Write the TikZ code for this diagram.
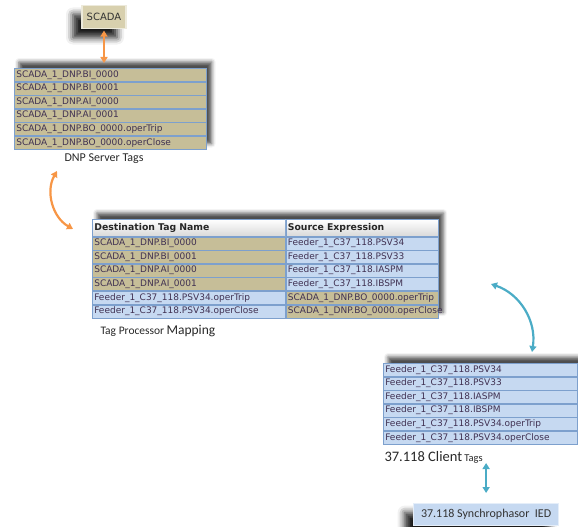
\documentclass[tikz,border=0pt]{standalone}
\usepackage{fontspec}
\setmainfont{Carlito}
\newfontfamily\tagfont{DejaVu Sans}
\usetikzlibrary{arrows.meta, positioning, backgrounds, shadows.blur}

\definecolor{tagtan}{RGB}{198,190,152}
\definecolor{scadatan}{RGB}{216,208,174}
\definecolor{tagblue}{RGB}{198,217,241}
\definecolor{rowline}{RGB}{125,160,205}
\definecolor{tagtext}{RGB}{64,49,82}
\definecolor{labeltext}{RGB}{40,40,40}
\definecolor{arroworange}{RGB}{247,150,70}
\definecolor{arrowteal}{RGB}{75,172,198}

\begin{document}
\begin{tikzpicture}[x=1pt, y=-1pt,
    tagrow/.style={rectangle, draw=rowline, line width=0.6pt, text width=#1, align=left, inner xsep=2pt, inner ysep=0pt, minimum height=13pt, text=tagtext, font=\tagfont\fontsize{9}{10}\selectfont},
    headcell/.style={tagrow=#1, minimum height=17pt, top color=white, bottom color=black!15, text=black!85, font=\tagfont\bfseries\fontsize{9.3}{11}\selectfont},
    tablebox/.style={fill=white, blur shadow={shadow xshift=5pt, shadow yshift=6pt, shadow blur radius=4pt, shadow opacity=70}},
    labelbox/.style={rectangle, fill=#1, draw=#1!45!white, line width=1.2pt, inner xsep=4pt, minimum height=22pt, text=black!80, blur shadow={shadow xshift=-9pt, shadow yshift=-9pt, shadow blur radius=7pt, shadow opacity=90}},
    orangearrow/.style={{Triangle[length=6pt, width=7pt]}-{Triangle[length=6pt, width=7pt]}, line width=2.2pt, draw=arroworange},
    tealarrow/.style={orangearrow, draw=arrowteal}]

    \useasboundingbox (0,0) rectangle (578,527);

    % SCADA and DNP server tags
    \node[labelbox=scadatan, font=\tagfont\fontsize{10}{12}\selectfont, minimum width=44pt, minimum height=23pt] (scada) at (104,17) {SCADA};

    \node[tagrow=188pt, fill=tagtan, anchor=north west] (dnp1) at (14,68) {SCADA\_1\_DNP.BI\_0000};
    \foreach \tagname [count=\i from 2, remember=\i as \prev (initially 1)] in
        {SCADA\_1\_DNP.BI\_0001, SCADA\_1\_DNP.AI\_0000, SCADA\_1\_DNP.AI\_0001,
         SCADA\_1\_DNP.BO\_0000.operTrip, SCADA\_1\_DNP.BO\_0000.operClose}
      \node[tagrow=188pt, fill=tagtan, below=0pt of dnp\prev] (dnp\i) {\tagname};

    \node[font=\fontsize{12}{14}\selectfont, text=labeltext] (dnplabel) at (104,159) {DNP Server Tags};

    % Tag processor mapping
    \node[headcell=189pt, anchor=north west] (mapl0) at (92,219) {Destination Tag Name};
    \node[headcell=148pt, right=0pt of mapl0] (mapr0) {Source Expression};
    \foreach \dst/\src/\lcol/\rcol [count=\i, remember=\i as \prev (initially 0)] in
        {SCADA\_1\_DNP.BI\_0000/Feeder\_1\_C37\_118.PSV34/tagtan/tagblue,
         SCADA\_1\_DNP.BI\_0001/Feeder\_1\_C37\_118.PSV33/tagtan/tagblue,
         SCADA\_1\_DNP.AI\_0000/Feeder\_1\_C37\_118.IASPM/tagtan/tagblue,
         SCADA\_1\_DNP.AI\_0001/Feeder\_1\_C37\_118.IBSPM/tagtan/tagblue,
         Feeder\_1\_C37\_118.PSV34.operTrip/SCADA\_1\_DNP.BO\_0000.operTrip/tagblue/tagtan,
         Feeder\_1\_C37\_118.PSV34.operClose/SCADA\_1\_DNP.BO\_0000.operClose/tagblue/tagtan}
    {
      \node[tagrow=189pt, fill=\lcol, below=0pt of mapl\prev] (mapl\i) {\dst};
      \node[tagrow=148pt, fill=\rcol, below=0pt of mapr\prev] (mapr\i) {\src};
    }

    \node[anchor=west, text=labeltext] (maplabel) at (97,331) {{\fontsize{11.5}{13}\selectfont Tag Processor} {\fontsize{13.5}{16}\selectfont Mapping}};

    % 37.118 client tags and IED
    \node[tagrow=190pt, fill=tagblue, anchor=north west] (cli1) at (383,363) {Feeder\_1\_C37\_118.PSV34};
    \foreach \tagname [count=\i from 2, remember=\i as \prev (initially 1)] in
        {Feeder\_1\_C37\_118.PSV33, Feeder\_1\_C37\_118.IASPM, Feeder\_1\_C37\_118.IBSPM,
         Feeder\_1\_C37\_118.PSV34.operTrip, Feeder\_1\_C37\_118.PSV34.operClose}
      \node[tagrow=190pt, fill=tagblue, below=0pt of cli\prev] (cli\i) {\tagname};

    \node[anchor=west, text=labeltext] (clientlabel) at (381,457) {{\fontsize{14.5}{16}\selectfont 37.118 Client} {\fontsize{10.5}{12}\selectfont Tags}};

    \node[labelbox=tagblue, font=\fontsize{12}{14}\selectfont, anchor=north west, minimum width=145pt] (ied) at (413,503) {37.118 Synchrophasor\ \ IED};

    % shadows behind the tables
    \begin{scope}[on background layer]
      \fill[tablebox] (dnp1.north west) rectangle (dnp6.south east);
      \fill[tablebox] (mapl0.north west) rectangle (mapr6.south east);
      \fill[tablebox] (cli1.north west) rectangle (cli6.south east);
    \end{scope}

    % Arrows
    \coordinate (dnpcurvetop) at (57,171);
    \coordinate (dnpcurvebot) at (73,229);
    \coordinate (mapcurvetop) at (491,284);
    \coordinate (mapcurvebot) at (532,352);

    \draw[orangearrow, shorten <=1.5pt, shorten >=5pt] (scada.south) -- (scada.south |- dnp1.north);
    \draw[orangearrow] (dnpcurvetop) to[bend right=45] (dnpcurvebot);
    \draw[tealarrow] (mapcurvetop) to[bend left=40] (mapcurvebot);
    \draw[tealarrow] ([yshift=40pt]ied.north) -- ([yshift=10pt]ied.north);

\end{tikzpicture}
\end{document}
